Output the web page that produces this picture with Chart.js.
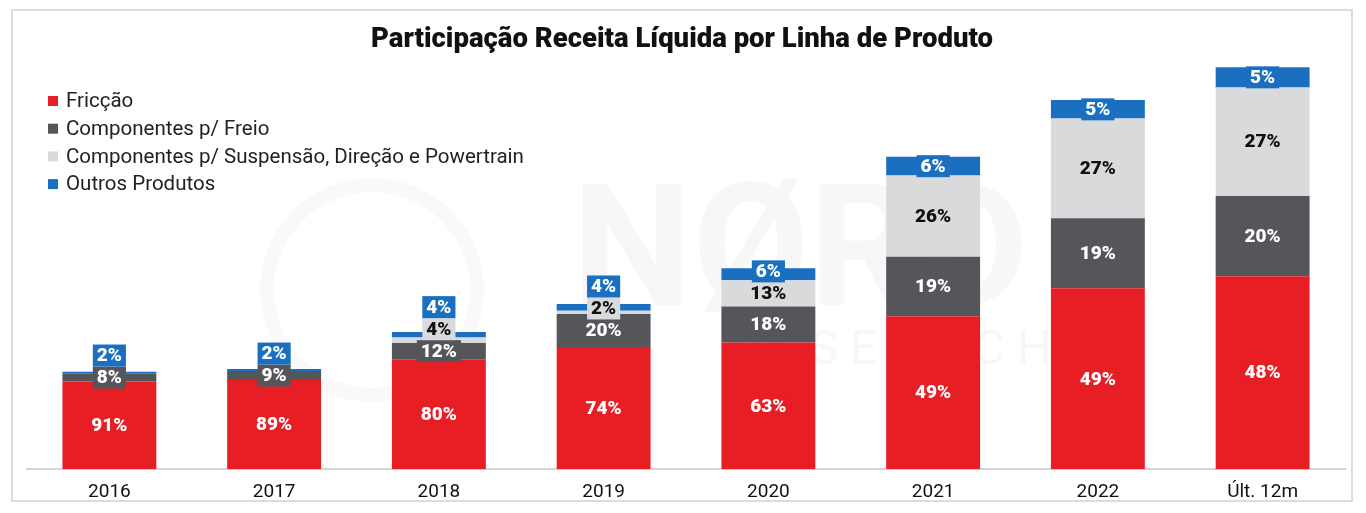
<!DOCTYPE html>
<html>
<head>
<meta charset="utf-8">
<script src="https://cdn.jsdelivr.net/npm/chart.js@4.4.1/dist/chart.umd.min.js"></script>
<style>
  html, body { margin: 0; padding: 0; background: #fff; }
  #wrap { width: 1366px; height: 513px; position: relative; }
</style>
</head>
<body>
<div id="wrap"><canvas id="receitaChart" width="1366" height="513"></canvas></div>
<script>
// Dados
const categorias = ['2016', '2017', '2018', '2019', '2020', '2021', '2022', 'Últ. 12m'];
// receita líquida total estimada pela altura das barras (R$ mn)
const receitaTotal = [873, 906, 1242, 1494, 1818, 2826, 3339, 3636];
const friccao = [91, 89, 80, 74, 63, 49, 49, 48];
const freio = [8, 9, 12, 20, 18, 19, 19, 20];
const suspensao = [null, null, 4, 2, 13, 26, 27, 27];
const outros = [2, 2, 4, 4, 6, 6, 5, 5];

const series = [
    { label: 'Fricção', shares: friccao, color: '#E81E25', text: '#fff' },
    { label: 'Componentes p/ Freio', shares: freio, color: '#55565A', text: '#fff' },
    { label: 'Componentes p/ Suspensão, Direção e Powertrain', shares: suspensao, color: '#D9DADC', text: '#111' },
    { label: 'Outros Produtos', shares: outros, color: '#1B6FC1', text: '#fff' }
];

const FONT = 'Roboto, "Liberation Sans", sans-serif';

// fundo, moldura, titulo, legenda e marca d'agua
const decoracao = {
    id: 'decoracao',
    beforeDraw(chart) {
        const c = chart.ctx;
        c.save();
        c.fillStyle = '#fff';
        c.fillRect(0, 0, chart.width, chart.height);
        c.strokeStyle = '#dcdcdc';
        c.lineWidth = 2;
        c.strokeRect(12, 10, 1340, 491);
        // marca d'agua
        c.fillStyle = 'rgba(0,0,0,0.03)';
        c.font = 'bold 170px ' + FONT;
        c.textAlign = 'center';
        c.textBaseline = 'middle';
        c.fillText('NØRD', 800, 262);
        c.font = '48px ' + FONT;
        c.fillText('R E S E A R C H', 890, 352);
        c.lineWidth = 14;
        c.strokeStyle = 'rgba(0,0,0,0.025)';
        c.beginPath();
        c.arc(372, 290, 105, 0, Math.PI * 2);
        c.stroke();
        c.restore();
    },
    afterDraw(chart) {
        const c = chart.ctx;
        c.save();
        c.fillStyle = '#111';
        c.font = '900 27.5px ' + FONT;
        c.textAlign = 'center';
        c.textBaseline = 'middle';
        c.fillText('Participação Receita Líquida por Linha de Produto', 682, 40);
        c.font = '20.5px ' + FONT;
        c.textAlign = 'left';
        chart.data.datasets.forEach((ds, i) => {
            const y = 101 + i * 27.7;
            c.fillStyle = ds.backgroundColor;
            c.fillRect(48, y - 5, 10, 10);
            c.fillStyle = '#222';
            c.fillText(ds.label, 66, y + 1);
        });
        c.restore();
    }
};

// rotulos de percentual com caixa na cor do segmento
const rotulos = {
    id: 'rotulos',
    afterDatasetsDraw(chart) {
        const c = chart.ctx;
        const h = 22;
        c.save();
        c.font = '900 19px ' + FONT;
        c.textAlign = 'center';
        c.textBaseline = 'middle';
        categorias.forEach((cat, idx) => {
            let limite = Infinity;
            chart.data.datasets.forEach((ds, di) => {
                const share = series[di].shares[idx];
                if (share == null) return;
                const el = chart.getDatasetMeta(di).data[idx];
                const centro = (el.y + el.base) / 2;
                const y = Math.min(centro, limite - h / 2);
                limite = y - h / 2;
                const txt = share + '%';
                const w = c.measureText(txt).width + 8;
                c.fillStyle = series[di].color;
                c.fillRect(el.x - w / 2, y - h / 2, w, h);
                c.fillStyle = series[di].text;
                c.fillText(txt, el.x, y + 1);
            });
        });
        c.restore();
    }
};

const ctx = document.getElementById('receitaChart').getContext('2d');
const receitaChart = new Chart(ctx, {
    type: 'bar',
    data: {
        labels: categorias,
        datasets: series.map(s => ({
            label: s.label,
            data: s.shares.map((v, i) => v == null ? null : receitaTotal[i] * v / 100),
            backgroundColor: s.color,
            borderWidth: 0,
            barPercentage: 0.57,
            categoryPercentage: 1
        }))
    },
    options: {
        responsive: false,
        animation: false,
        layout: { padding: { top: 58, left: 27, right: 21, bottom: 5 } },
        plugins: {
            legend: { display: false },
            title: { display: false },
            tooltip: { enabled: false }
        },
        scales: {
            x: {
                stacked: true,
                grid: { display: false },
                border: { color: '#d4d4d4', width: 2 },
                ticks: { color: '#111', font: { family: FONT, size: 19 }, padding: 4 }
            },
            y: {
                stacked: true,
                display: false,
                min: 0,
                max: 3720
            }
        }
    },
    plugins: [decoracao, rotulos]
});
</script>
</body>
</html>
